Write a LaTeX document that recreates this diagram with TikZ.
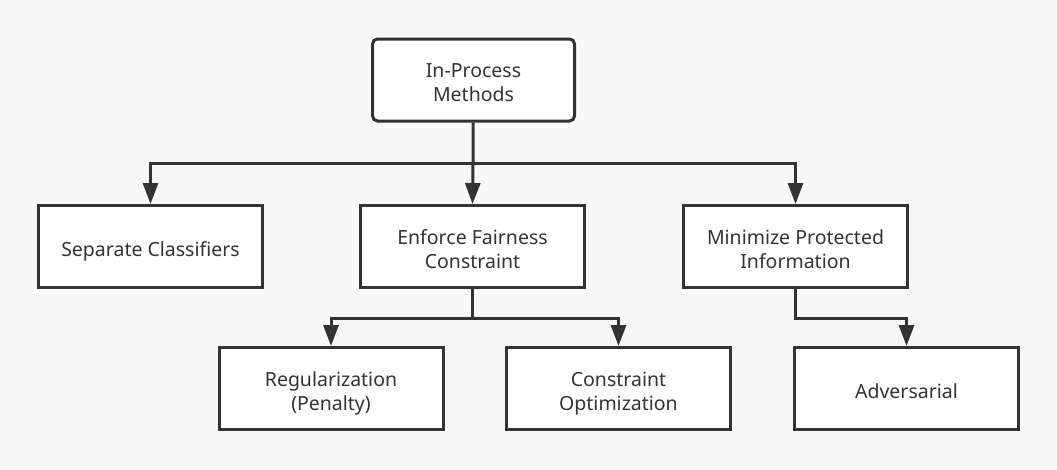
\documentclass[tikz,border=0pt]{standalone}
\usepackage{fontspec}
\setmainfont{Noto Sans}
\usetikzlibrary{arrows.meta}
\definecolor{bgcol}{HTML}{F8F8F8}
\definecolor{ink}{HTML}{333333}

\begin{document}
\begin{tikzpicture}[
    x=1pt, y=-1pt,
    box/.style={
        rectangle,
        draw=ink,
        fill=white,
        line width=3pt,
        minimum width=224pt,
        minimum height=82pt,
        align=center,
        text=ink,
        text height=19pt,
        text depth=0pt,
        font=\fontsize{19.5}{24}\selectfont},
    twoline/.style={
        box,
        text height=43.5pt},
    link/.style={
        draw=ink,
        line width=3pt},
    tip/.style={
        link,
        -{Triangle[width=15pt,length=21pt]}}
    ]
    \useasboundingbox[fill=bgcol] (0,0) rectangle (1057,469);

    % root
    \node[
        twoline,
        rounded corners=5pt,
        minimum width=202pt] 
        (root) at (473.5,80) {In-Process\\Methods};

    % first level
    \node[box] (sep) at (150.5,246.5) {Separate Classifiers};
    \node[twoline] (enf) at (472.5,246.5) {Enforce Fairness\\Constraint};
    \node[twoline] (mini) at (795.5,246.5) {Minimize Protected\\Information};

    % second level
    \node[twoline] (reg) at (331,388.5) {Regularization\\(Penalty)};
    \node[twoline] (con) at (618.5,388.5) {Constraint\\Optimization};
    \node[box] (adv) at (906.5,388.5) {Adversarial};

    \coordinate (j1) at (473,163);
    \coordinate (j2) at (472.5,318);
    \coordinate (j3) at (795.5,318);

    \draw[link] (root) -- (j1);
    \draw[tip] (j1) -| (sep.north);
    \draw[tip] (j1) -- (enf.north);
    \draw[tip] (j1) -| (mini.north);

    \draw[link] (enf) -- (j2);
    \draw[tip] (j2) -| (reg.north);
    \draw[tip] (j2) -| (con.north);

    \draw[tip] (mini) -- (j3) -| (adv.north);
\end{tikzpicture}
\end{document}
